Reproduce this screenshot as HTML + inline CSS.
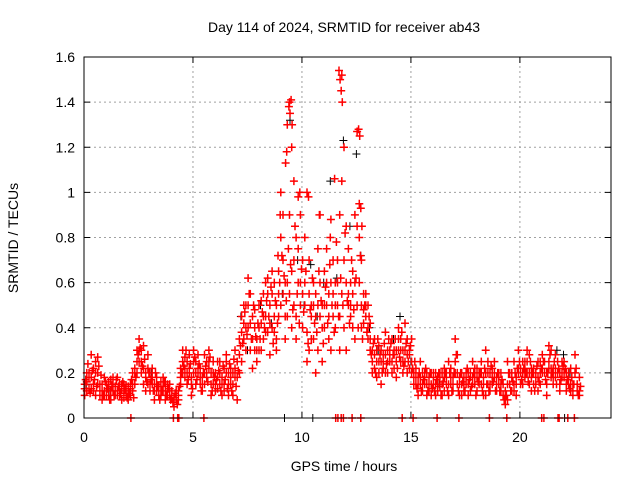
<!DOCTYPE html>
<html><head><meta charset="utf-8"><style>
body{margin:0;background:#fff;}
svg{display:block;font-family:"Liberation Sans",sans-serif;}
</style></head><body>
<svg id="chart" width="640" height="480">
<rect width="640" height="480" fill="#fff"/>
<text x="344" y="32" font-size="14" text-anchor="middle">Day 114 of 2024, SRMTID for receiver ab43</text>
<text x="344" y="471" font-size="14" text-anchor="middle">GPS time / hours</text>
<text transform="translate(18,238) rotate(-90)" font-size="14" text-anchor="middle">SRMTID / TECUs</text>
<g id="grid"></g><g id="ticks"></g><g id="marks"></g>
<rect x="84" y="57" width="527" height="361" fill="none" stroke="#000"/>
</svg>
<script>
const xTicks=[0,5,10,15,20];
const yTicks=[0,0.2,0.4,0.6,0.8,1,1.2,1.4,1.6];
const yTickLabels=["0","0.2","0.4","0.6","0.8","1","1.2","1.4","1.6"];
const tStart=0, tStep=0.1;
const redA=[0.15,0.12,0.18,0.13,0.22,0.25,0.27,0.1,0.08,0.12,
0.15,0.1,0.17,0.12,0.14,0.18,0.1,0.13,0.09,0.12,
0.14,0.1,0.12,0.2,0.25,0.35,0.3,0.22,0.18,0.28,
0.2,0.15,0.12,0.18,0.1,0.14,0.12,0.16,0.1,0.13,
0.09,0.07,0.1,0.08,0.15,0.2,0.27,0.25,0.22,0.18,
0.3,0.25,0.2,0.15,0.12,0.28,0.25,0.3,0.2,0.15,
0.2,0.13,0.25,0.18,0.12,0.2,0.15,0.22,0.1,0.3,
0.25,0.2,0.45,0.35,0.5,0.62,0.3,0.22,0.4,0.35,
0.3,0.42,0.55,0.6,0.38,0.5,0.65,0.45,0.3,0.55,
1.0,0.9,0.6,0.45,1.4,1.2,1.05,0.8,0.6,0.9,
0.7,0.5,1.0,0.3,0.45,0.6,0.2,0.75,0.9,0.4,
0.65,0.5,0.35,0.88,0.45,0.6,0.7,0.3,1.52,1.2,
0.85,0.5,0.6,0.4,0.9,1.27,0.8,0.7,0.55,0.45,
0.5,0.3,0.25,0.35,0.3,0.2,0.25,0.28,0.2,0.3,
0.25,0.35,0.22,0.3,0.4,0.25,0.3,0.42,0.35,0.28,
0.25,0.2,0.18,0.15,0.25,0.12,0.2,0.15,0.18,0.1,
0.15,0.2,0.12,0.18,0.1,0.22,0.15,0.25,0.18,0.12,
0.35,0.2,0.15,0.1,0.18,0.15,0.2,0.12,0.25,0.18,
0.22,0.15,0.25,0.1,0.3,0.2,0.15,0.22,0.18,0.12,
0.15,0.2,0.1,0.06,0.25,0.15,0.2,0.12,0.1,0.3,
0.22,0.15,0.25,0.3,0.2,0.18,0.15,0.2,0.12,0.25,
0.28,0.2,0.15,0.32,0.3,0.22,0.18,0.25,0.15,0.2,
0.25,0.12,0.2,0.15,0.1,0.28,0.12,0.1];
const redB=[0.1,0.2,0.13,0.28,0.15,0.1,0.2,0.15,0.12,0.18,
0.1,0.16,0.08,0.18,0.1,0.12,0.15,0.08,0.15,0.1,
0.08,0.15,0.2,0.15,0.3,0.25,0.2,0.32,0.12,0.15,
0.12,0.22,0.08,0.15,0.14,0.1,0.18,0.08,0.15,0.1,
0.12,0.05,0.08,0.1,0.22,0.3,0.18,0.15,0.28,0.1,
0.2,0.15,0.28,0.22,0.18,0.15,0.2,0.22,0.1,0.25,
0.12,0.25,0.15,0.1,0.22,0.28,0.1,0.15,0.2,0.18,
0.08,0.35,0.25,0.5,0.3,0.4,0.55,0.45,0.3,0.25,
0.5,0.3,0.35,0.45,0.55,0.28,0.4,0.6,0.35,0.45,
0.5,0.7,0.35,1.3,0.55,0.4,0.7,0.35,0.98,0.5,
0.4,0.8,0.25,0.55,0.35,0.5,0.45,0.3,0.6,0.25,
0.4,0.75,0.55,0.3,0.7,0.4,0.5,0.9,0.55,0.4,
0.3,0.75,0.45,0.65,0.35,0.5,0.95,0.4,0.48,0.55,
0.35,0.42,0.2,0.22,0.18,0.32,0.15,0.25,0.38,0.2,
0.3,0.2,0.28,0.18,0.35,0.3,0.2,0.25,0.2,0.3,
0.35,0.15,0.22,0.1,0.18,0.2,0.15,0.1,0.12,0.2,
0.2,0.1,0.18,0.14,0.2,0.12,0.18,0.1,0.22,0.15,
0.2,0.28,0.1,0.15,0.12,0.2,0.1,0.18,0.15,0.22,
0.12,0.2,0.15,0.18,0.1,0.25,0.12,0.18,0.25,0.15,
0.2,0.12,0.15,0.1,0.08,0.2,0.12,0.25,0.18,0.2,
0.15,0.25,0.18,0.2,0.28,0.12,0.22,0.18,0.25,0.15,
0.2,0.25,0.1,0.22,0.18,0.15,0.28,0.2,0.12,0.25,
0.18,0.2,0.15,0.22,0.12,0.2,0.15,0.18];
const redC=[0.13,0.16,0.2,0.18,0.12,0.2,0.15,0.12,0.15,0.1,
0.12,0.13,0.12,0.15,0.12,0.1,0.12,0.15,0.11,0.14,
0.12,0.13,0.15,0.22,0.2,0.3,0.25,0.15,0.2,0.22,
0.15,0.18,0.15,0.12,0.12,0.16,0.14,0.12,0.12,0.15,
0.1,0.09,0.12,0.12,0.18,0.25,0.22,0.2,0.2,0.15,
0.25,0.2,0.22,0.18,0.15,0.2,0.18,0.25,0.15,0.2,
0.15,0.18,0.2,0.15,0.15,0.25,0.2,0.18,0.15,0.22,
0.18,0.28,0.38,0.42,0.4,0.5,0.42,0.35,0.48,0.3,
0.4,0.52,0.45,0.38,0.62,0.42,0.55,0.38,0.5,0.65,
0.8,0.55,0.45,0.6,0.9,0.65,0.5,0.45,0.75,0.6,
0.55,0.6,0.38,0.7,0.5,0.35,0.55,0.5,0.45,0.5,
0.5,0.6,0.45,0.6,0.55,0.5,0.6,0.45,1.05,0.7,
0.6,0.55,0.5,0.55,0.6,0.85,0.6,0.5,0.42,0.5,
0.4,0.35,0.3,0.28,0.25,0.25,0.3,0.22,0.28,0.25,
0.28,0.25,0.3,0.25,0.3,0.35,0.25,0.3,0.28,0.22,
0.2,0.18,0.15,0.18,0.15,0.15,0.18,0.2,0.15,0.15,
0.18,0.15,0.15,0.2,0.15,0.18,0.2,0.15,0.15,0.18,
0.25,0.15,0.18,0.2,0.15,0.18,0.15,0.2,0.18,0.15,
0.18,0.18,0.2,0.15,0.2,0.15,0.2,0.15,0.2,0.18,
0.18,0.15,0.15,0.12,0.15,0.2,0.18,0.15,0.15,0.22,
0.2,0.2,0.22,0.25,0.15,0.22,0.2,0.15,0.18,0.2,
0.22,0.25,0.2,0.25,0.22,0.18,0.22,0.2,0.2,0.18,
0.2,0.15,0.18,0.12,0.15,0.2,0.15,0.12];
const redD=[0.17,0.24,0.11,0.21,0.17,0.14,0.23,0.19,0.1,0.16,
0.13,0.08,0.14,0.1,0.17,0.14,0.11,0.16,0.13,0.09,
0.11,0.17,0.09,0.18,0.28,0.31,0.23,0.26,0.16,0.2,
0.17,0.12,0.2,0.14,0.08,0.12,0.16,0.1,0.13,0.08,
0.07,0.11,0.06,0.14,0.2,0.23,0.3,0.17,0.24,0.13,
0.27,0.17,0.24,0.12,0.2,0.23,0.16,0.27,0.12,0.18,
0.17,0.21,0.12,0.23,0.17,0.13,0.24,0.12,0.26,0.14,
0.21,0.32,0.33,0.47,0.37,0.55,0.35,0.5,0.36,0.42,
0.35,0.47,0.4,0.52,0.45,0.58,0.33,0.52,0.42,0.6,
0.72,0.63,0.52,0.75,0.68,0.48,0.85,0.55,0.42,0.66,
0.47,0.65,0.33,0.48,0.62,0.42,0.38,0.65,0.52,0.33,
0.58,0.42,0.68,0.5,0.38,0.78,0.45,0.62,0.5,0.82,
0.52,0.42,0.7,0.48,0.62,0.4,0.72,0.35,0.5,0.38,
0.45,0.28,0.33,0.2,0.35,0.28,0.2,0.33,0.24,0.35,
0.33,0.28,0.35,0.22,0.27,0.38,0.23,0.33,0.25,0.32,
0.22,0.25,0.13,0.2,0.12,0.17,0.22,0.12,0.2,0.13,
0.12,0.17,0.2,0.1,0.16,0.2,0.12,0.2,0.12,0.2,
0.28,0.12,0.2,0.16,0.12,0.22,0.17,0.14,0.2,0.1,
0.16,0.2,0.12,0.22,0.15,0.12,0.23,0.16,0.12,0.2,
0.12,0.17,0.08,0.1,0.2,0.12,0.16,0.2,0.22,0.25,
0.17,0.22,0.2,0.16,0.25,0.2,0.12,0.23,0.16,0.22,
0.25,0.17,0.2,0.28,0.2,0.25,0.15,0.22,0.17,0.23,
0.22,0.17,0.13,0.18,0.15,0.22,0.1,0.14];
const peakT=[9.4,9.45,9.5,9.55,9.3,9.25,11.7,11.75,11.8,11.85,12.6,12.65,12.7,12.75,11.5,11.3,10.8,10.3,9.0,9.9,8.9];
const peakV=[1.38,1.35,1.41,1.3,1.18,1.13,1.54,1.5,1.45,1.4,1.28,1.25,0.93,0.85,1.06,0.8,0.9,0.98,0.9,1.0,0.72];
const zeroRedT=[2.15,4.1,4.3,4.35,5.5,11.55,11.65,11.8,11.9,12.3,12.7,14.6,15.1,16.2,17.2,18.6,19.4,21,21.1,21.75,21.8,22.2,22.5];
const blackT=[0.1,1.2,3.1,7.2,7.5,8.1,8.6,9.1,9.45,9.8,10.1,10.4,10.7,11.0,11.3,11.6,11.9,12.2,12.5,12.7,13.1,13.5,14.2,14.5,15.0,16.3,18.2,21.7,22.0,22.3,9.2,10.5,22.05];
const blackV=[0.15,0.12,0.2,0.45,0.3,0.5,0.42,0.55,1.32,0.7,0.5,0.68,0.45,0.6,1.05,0.62,1.23,0.85,1.17,0.72,0.4,0.3,0.35,0.45,0.25,0.15,0.2,0.3,0.28,0.2,0,0,0];

const X0=84,X1=611,Y0=418,Y1=57,XMAX=24.18,YMAX=1.6;
const sx=v=>X0+v/XMAX*(X1-X0);
const sy=v=>Y0-v/YMAX*(Y0-Y1);
const NS="http://www.w3.org/2000/svg";
function mk(tag,attrs,parent){const e=document.createElementNS(NS,tag);for(const k in attrs)e.setAttribute(k,attrs[k]);parent.appendChild(e);return e;}
const grid=document.getElementById('grid'),ticks=document.getElementById('ticks'),marks=document.getElementById('marks');
xTicks.forEach(v=>{
 const x=sx(v);
 if(v>0){const g=mk('line',{x1:x,y1:Y0,x2:x,y2:Y1,stroke:'#a0a0a0','stroke-dasharray':'2,3'},grid);
 
 }
 mk('line',{x1:x,y1:Y0,x2:x,y2:Y0-6,stroke:'#000'},ticks);
 mk('line',{x1:x,y1:Y1,x2:x,y2:Y1+6,stroke:'#000'},ticks);
 const t=mk('text',{x:x,y:Y0+24,'font-size':14,'text-anchor':'middle'},ticks);t.textContent=v;
 
 
});
yTicks.forEach((v,i)=>{
 const y=sy(v);
 if(v>0&&v<YMAX){const g=mk('line',{x1:X0,y1:y,x2:X1,y2:y,stroke:'#a0a0a0','stroke-dasharray':'2,3'},grid);
 
 }
 mk('line',{x1:X0,y1:y,x2:X0+6,y2:y,stroke:'#000'},ticks);
 mk('line',{x1:X1,y1:y,x2:X1-6,y2:y,stroke:'#000'},ticks);
 const t=mk('text',{x:X0-9,y:y+5,'font-size':14,'text-anchor':'end'},ticks);t.textContent=yTickLabels[i];
 
 
});
let dRed='',dBlack='';
const plus=(x,y)=>`M${(x-4).toFixed(1)} ${y.toFixed(1)}h8M${x.toFixed(1)} ${(y-4).toFixed(1)}v8`;
[redA,redB,redC].forEach(arr=>arr.forEach((v,i)=>{dRed+=plus(sx(tStart+i*tStep+0.03),sy(v));}));
redD.forEach((v,i)=>{dRed+=plus(sx(tStart+i*tStep+0.08),sy(v));});
peakT.forEach((t,i)=>{dRed+=plus(sx(t),sy(peakV[i]));});
zeroRedT.forEach(t=>{dRed+=plus(sx(t),sy(0));});
blackT.forEach((t,i)=>{dBlack+=plus(sx(t),sy(blackV[i]));});
const pb=mk('path',{d:dBlack,stroke:'#000',fill:'none','stroke-width':1},marks);


const pr=mk('path',{d:dRed,stroke:'#ff0000',fill:'none','stroke-width':1.5},marks);


</script>
</body></html>
